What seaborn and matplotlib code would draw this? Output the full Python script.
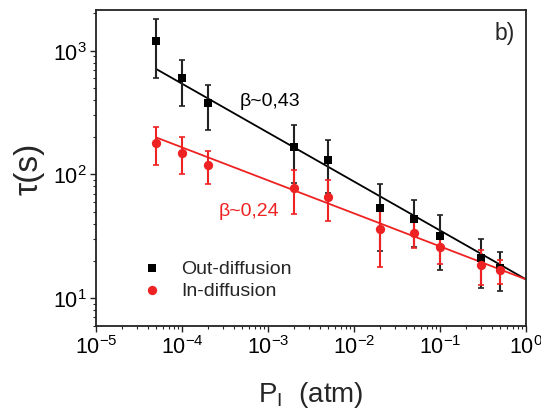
import matplotlib
matplotlib.use("Agg")
import matplotlib.pyplot as plt
import seaborn as sns
import numpy as np
import pandas as pd
from matplotlib.ticker import LogLocator, NullFormatter

sns.set_style("ticks")
plt.rcParams['font.family'] = ['Liberation Sans', 'DejaVu Sans']
plt.rcParams['mathtext.fontset'] = 'custom'
plt.rcParams['mathtext.rm'] = 'Liberation Sans'
plt.rcParams['mathtext.it'] = 'Liberation Sans:italic'

# Data
pressure = [5e-5, 1e-4, 2e-4, 2e-3, 5e-3, 2e-2, 5e-2, 1e-1, 3e-1, 5e-1]
tau_out = [1200, 600, 380, 168, 131, 54, 44, 32, 21, 17.5]
err_out = [600, 240, 152, 83, 60, 30, 18, 15, 9, 6]
tau_in = [180, 150, 120, 78, 66, 36, 33.5, 26, 18.7, 16.8]
err_in = [60, 49, 36, 30, 24, 18, 8, 7, 6, 3.7]
fit_p = [5e-5, 1.0]
fit_out = [711, 14.2]
fit_in = [199, 14.2]
labels = ["Out-diffusion", "In-diffusion"]
beta_labels = ["β~0,43", "β~0,24"]

BLACK = "#000000"
RED = "#ee2222"

fig = plt.figure(figsize=(5.41, 4.10), dpi=100)
ax = fig.add_axes([0.1775, 0.2032, 0.7948, 0.77])

df_out = pd.DataFrame({"P": pressure, "tau": tau_out})
df_in = pd.DataFrame({"P": pressure, "tau": tau_in})
df_fo = pd.DataFrame({"P": fit_p, "tau": fit_out})
df_fi = pd.DataFrame({"P": fit_p, "tau": fit_in})

sns.lineplot(data=df_fo, x="P", y="tau", color=BLACK, lw=1.3, ax=ax, zorder=2)
sns.lineplot(data=df_fi, x="P", y="tau", color=RED, lw=1.3, ax=ax, zorder=2)

ax.errorbar(pressure, tau_out, yerr=err_out, fmt='none', ecolor="#222222",
            elinewidth=1.5, capsize=2, capthick=1.2, zorder=3)
ax.errorbar(pressure, tau_in, yerr=err_in, fmt='none', ecolor=RED,
            elinewidth=1.5, capsize=2, capthick=1.2, zorder=4)

sns.scatterplot(data=df_out, x="P", y="tau", marker="s", color=BLACK, s=30,
                edgecolor=BLACK, linewidth=0, ax=ax, zorder=5, label=labels[0])
sns.scatterplot(data=df_in, x="P", y="tau", marker="o", color=RED, s=45,
                edgecolor=RED, linewidth=0, ax=ax, zorder=6, label=labels[1])

ax.set_xscale("log")
ax.set_yscale("log")
ax.set_xlim(1e-5, 1.0)
ax.set_ylim(6.0, 2130)

ax.xaxis.set_major_locator(LogLocator(base=10, numticks=10))
ax.xaxis.set_minor_locator(LogLocator(base=10, subs=np.arange(2, 10), numticks=20))
ax.xaxis.set_minor_formatter(NullFormatter())
ax.yaxis.set_major_locator(LogLocator(base=10, numticks=10))
ax.yaxis.set_minor_locator(LogLocator(base=10, subs=np.arange(2, 10), numticks=20))
ax.yaxis.set_minor_formatter(NullFormatter())

ax.tick_params(axis="both", which="major", direction="out", length=4, width=1,
               labelsize=15.5, pad=3, colors="#222222", labelcolor="black")
ax.tick_params(axis="both", which="minor", direction="out", length=2, width=0.8)
for sp in ax.spines.values():
    sp.set_linewidth(1.3)
    sp.set_color("#222222")
    sp.set_visible(True)

ax.set_xlabel(r"P$_\mathrm{I}$  (atm)", fontsize=20, labelpad=15)
ax.set_ylabel("τ(s)", fontsize=24, labelpad=6)

ax.text(0.975, 0.93, "b)", transform=ax.transAxes, fontsize=16.5,
        ha="right", va="center")
# beta labels positioned in figure fraction
fig.text(240 / 541, 1 - 102 / 410, beta_labels[0], fontsize=14, color=BLACK,
         ha="left", va="center")
fig.text(219 / 541, 1 - 212 / 410, beta_labels[1], fontsize=14, color=RED,
         ha="left", va="center")

leg = ax.legend(loc="upper left", bbox_to_anchor=(0.085, 0.235), frameon=False,
                fontsize=14, handletextpad=0.9, labelspacing=0.25,
                markerscale=1.0, handlelength=1.2, borderaxespad=0)

fig.savefig("out.png", dpi=100)
